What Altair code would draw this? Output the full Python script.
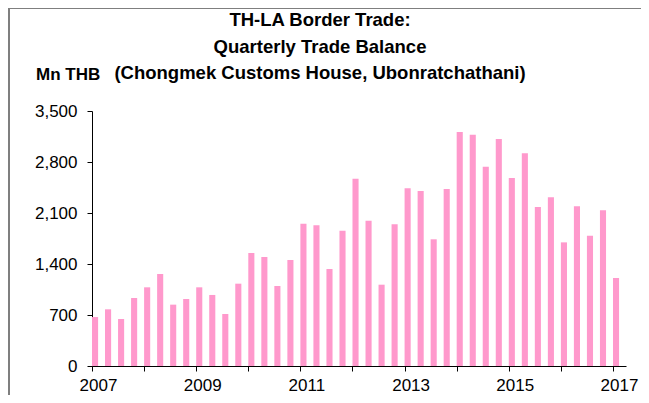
import altair as alt
import pandas as pd

years = [y for y in range(2007, 2018)]
quarter_labels = [f"{y}Q{q}" for y in range(2007, 2017) for q in range(1, 5)] + ["2017Q1"]
balance = [672, 778, 645, 933, 1080, 1263, 842, 920, 1080, 975, 714, 1130,
           1551, 1496, 1098, 1455, 1954, 1931, 1331, 1857, 2571, 1995, 1116, 1944,
           2439, 2402, 1739, 2429, 3212, 3175, 2736, 3116, 2580, 2919, 2182, 2315,
           1697, 2192, 1789, 2137, 1208]
y_ticks = [0, 700, 1400, 2100, 2800, 3500]
title_lines = ["TH-LA Border Trade:", "Quarterly Trade Balance",
               "(Chongmek Customs House, Ubonratchathani)"]
unit_label = "Mn THB"

df = pd.DataFrame({"quarter": quarter_labels, "value": balance})

W, H = 534, 255
FONT = "Liberation Sans"

base = alt.Chart(df).transform_calculate(
    t="toNumber(substring(datum.quarter, 0, 4)) + (toNumber(substring(datum.quarter, 5, 6)) - 1) * 0.25"
).transform_calculate(
    t2="datum.t + 0.117"
)

bars = base.mark_bar(color="#FF99CC").encode(
    x=alt.X("t:Q", scale=alt.Scale(domain=[2007, 2017.25], nice=False, zero=False),
            axis=alt.Axis(values=years, title=None, grid=False, format="d",
                          labelExpr="datum.value % 2 == 1 ? datum.label : ''",
                          labelOffset=6, tickSize=5, labelPadding=6,
                          labelFontSize=17, labelFont=FONT, labelColor="#000",
                          domainColor="#000", tickColor="#000", labelFlush=False)),
    x2="t2:Q",
    y=alt.Y("value:Q", scale=alt.Scale(domain=[0, 3500], nice=False),
            axis=alt.Axis(values=y_ticks, title=None, grid=False, format=",d",
                          tickSize=5, labelPadding=10, labelFontSize=17,
                          labelFont=FONT, labelColor="#000",
                          domainColor="#000", tickColor="#000")),
    y2=alt.datum(0),
)

frame = alt.Chart(pd.DataFrame({"v": [0]})).mark_rect(
    fill=None, stroke="#7f7f7f", strokeWidth=2
).encode(
    x=alt.value(-83), x2=alt.value(W + 200),
    y=alt.value(-103), y2=alt.value(H + 200)
)

def text_mark(txt, x, y, align, size):
    return alt.Chart(pd.DataFrame({"t": [txt]})).mark_text(
        font=FONT, fontSize=size, fontWeight="bold", align=align,
        baseline="middle", color="#000"
    ).encode(text="t:N", x=alt.value(x), y=alt.value(y))

titles = [
    text_mark(title_lines[0], 228, -91, "center", 18.5),
    text_mark(title_lines[1], 228, -64, "center", 18.5),
    text_mark(title_lines[2], 228, -38, "center", 18.5),
    text_mark(unit_label, -56, -36, "left", 17),
]

chart = alt.layer(frame, bars, *titles).properties(
    width=W, height=H,
    autosize=alt.AutoSizeParams(type="none"),
    padding={"left": 84, "top": 103, "right": 15, "bottom": 29},
    background="white",
).configure_view(stroke=None)

chart.save("out.html", embed_options={"renderer": "svg", "actions": False})
